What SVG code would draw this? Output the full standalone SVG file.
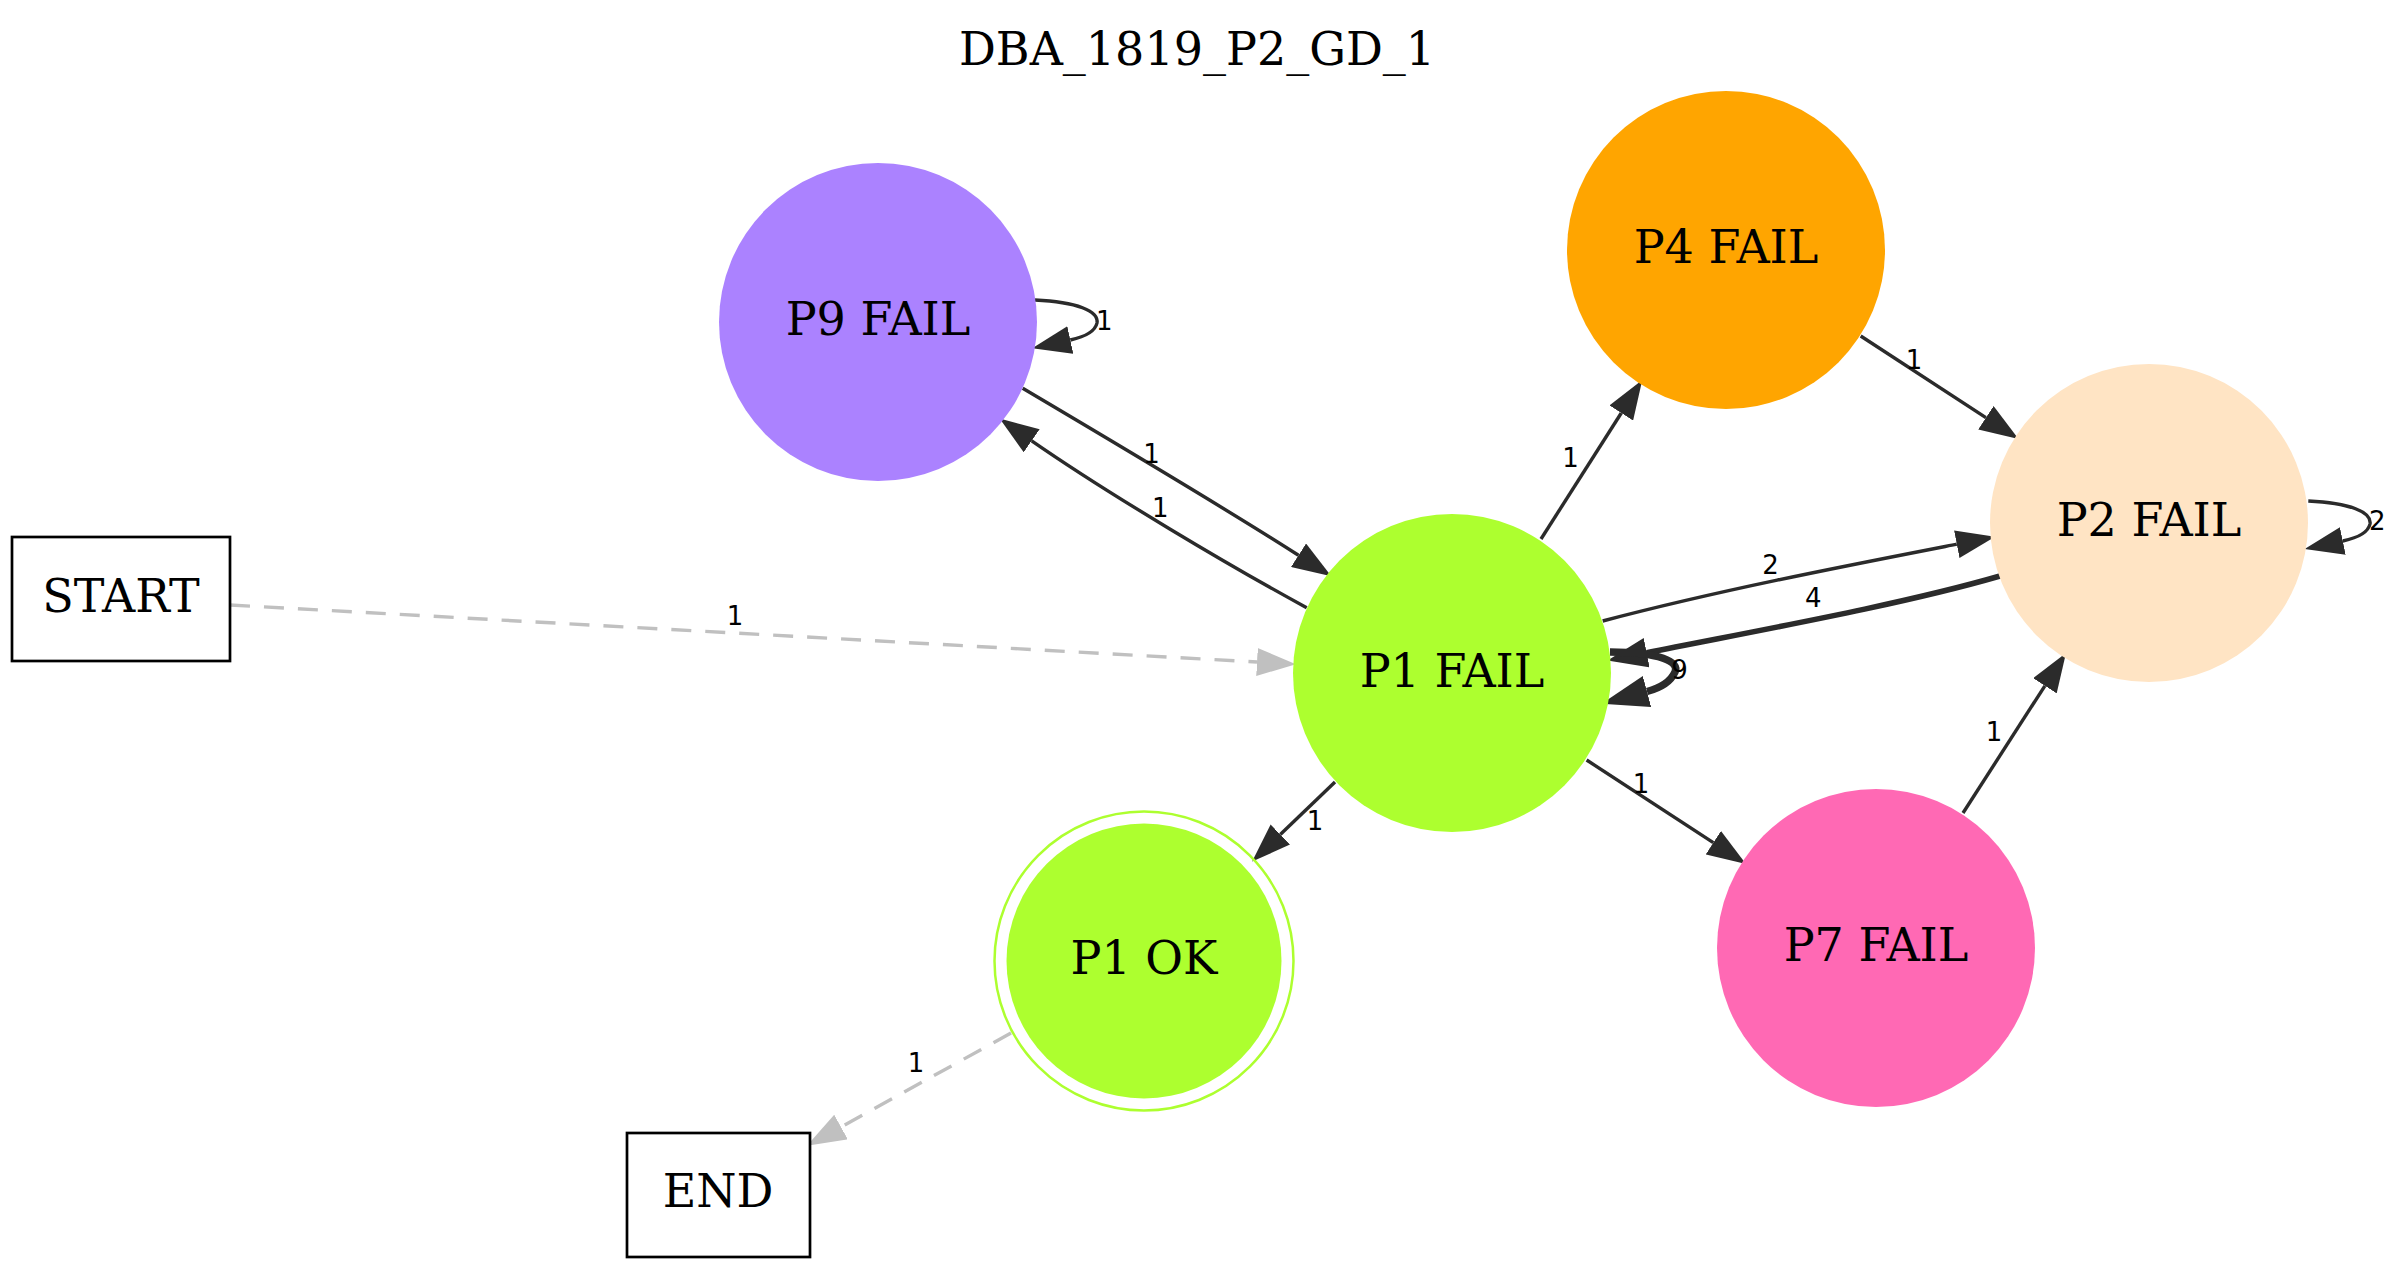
<svg xmlns="http://www.w3.org/2000/svg" width="2400" height="1269" viewBox="0 0 2400 1269">
  <style>
    .title { font-family: "DejaVu Serif", "Liberation Serif", serif; font-size: 46px; fill: #000; text-anchor: middle; }
    .nlabel { font-family: "DejaVu Serif", "Liberation Serif", serif; font-size: 46px; fill: #000; text-anchor: middle; }
    .elabel { font-family: "DejaVu Sans", "Liberation Sans", sans-serif; font-size: 26px; fill: #000; text-anchor: middle; }
    .edge { fill: none; stroke: #2b2b2b; stroke-width: 3.4; }
    .edge.w2 { stroke-width: 5.5; }
    .edge.w3 { stroke-width: 7.5; }
    .dashed { fill: none; stroke: #c0c0c0; stroke-width: 3.4; stroke-dasharray: 20 14; }
    .box { fill: #fff; stroke: #000; stroke-width: 2.7; }
  </style>
  <defs>
    <marker id="arrow" markerUnits="userSpaceOnUse" viewBox="0 0 39 28" refX="0" refY="14" markerWidth="39" markerHeight="28" orient="auto">
      <path d="M0,0 L39,14 L0,28 z" fill="#2b2b2b"/>
    </marker>
    <marker id="arrow-m" markerUnits="userSpaceOnUse" viewBox="0 0 40 30" refX="0" refY="15" markerWidth="40" markerHeight="30" orient="auto">
      <path d="M0,0 L40,15 L0,30 z" fill="#2b2b2b"/>
    </marker>
    <marker id="arrow-l" markerUnits="userSpaceOnUse" viewBox="0 0 47 32" refX="0" refY="16" markerWidth="47" markerHeight="32" orient="auto">
      <path d="M0,0 L47,16 L0,32 z" fill="#2b2b2b"/>
    </marker>
    <marker id="arrow-gray" markerUnits="userSpaceOnUse" viewBox="0 0 39 28" refX="0" refY="14" markerWidth="39" markerHeight="28" orient="auto">
      <path d="M0,0 L39,14 L0,28 z" fill="#c0c0c0"/>
    </marker>
  </defs>

  <rect width="2400" height="1269" fill="#fff"/>

  <text class="title" x="1197" y="65">DBA_1819_P2_GD_1</text>

  <g id="connectors">
    <!-- START -> P1 FAIL -->
    <path class="dashed" d="M230,605 L1257,662" marker-end="url(#arrow-gray)"/>
    <text class="elabel" x="735" y="625">1</text>
    <!-- P1 OK -> END -->
    <path class="dashed" d="M1011,1033 L841,1127" marker-end="url(#arrow-gray)"/>
    <text class="elabel" x="916" y="1072">1</text>
    <!-- P1 FAIL -> P1 OK -->
    <path class="edge" d="M1335,782 L1280.3,834.5" marker-end="url(#arrow)"/>
    <text class="elabel" x="1315" y="830">1</text>
    <!-- P1 FAIL -> P4 FAIL -->
    <path class="edge" d="M1541,539 L1621.3,413" marker-end="url(#arrow)"/>
    <text class="elabel" x="1570.5" y="467">1</text>
    <!-- P4 FAIL -> P2 FAIL -->
    <path class="edge" d="M1860.7,336 L1985.9,417.7" marker-end="url(#arrow)"/>
    <text class="elabel" x="1914" y="369">1</text>
    <!-- P1 FAIL -> P7 FAIL -->
    <path class="edge" d="M1586.6,760 L1713.3,842.7" marker-end="url(#arrow)"/>
    <text class="elabel" x="1641" y="793">1</text>
    <!-- P7 FAIL -> P2 FAIL -->
    <path class="edge" d="M1963,813 L2044.9,685.8" marker-end="url(#arrow)"/>
    <text class="elabel" x="1994" y="741">1</text>
    <!-- P9 FAIL -> P1 FAIL -->
    <path class="edge" d="M1022.7,388.3 C1100,434 1220,505 1298.5,555.3" marker-end="url(#arrow)"/>
    <text class="elabel" x="1151.5" y="463">1</text>
    <!-- P1 FAIL -> P9 FAIL -->
    <path class="edge" d="M1306.7,607.7 C1230,566 1110,495 1031.7,440.8" marker-end="url(#arrow)"/>
    <text class="elabel" x="1160.3" y="517">1</text>
    <!-- P1 FAIL -> P2 FAIL -->
    <path class="edge" d="M1602.7,621 C1720,590 1850,565 1956.8,544.2" marker-end="url(#arrow)"/>
    <text class="elabel" x="1770.5" y="574">2</text>
    <!-- P2 FAIL -> P1 FAIL -->
    <path class="edge w2" d="M2000,576 C1900,605 1760,630 1646.7,652.7" marker-end="url(#arrow-m)"/>
    <text class="elabel" x="1813.3" y="607">4</text>
    <!-- P1 FAIL self loop -->
    <path class="edge w3" d="M1610,652 C1660,652 1680,662 1675,672 C1671,681 1660,688 1647,691.5" marker-end="url(#arrow-l)"/>
    <text class="elabel" x="1679.5" y="679">9</text>
    <!-- P2 FAIL self loop -->
    <path class="edge" d="M2308.3,501 C2350,503 2372,512 2370,524 C2368,533 2357,538 2342.8,541" marker-end="url(#arrow)"/>
    <text class="elabel" x="2377.3" y="530">2</text>
    <!-- P9 FAIL self loop -->
    <path class="edge" d="M1035,300 C1077,302 1099,311 1097,323 C1095,332 1084,337 1070.3,340" marker-end="url(#arrow)"/>
    <text class="elabel" x="1104.3" y="330">1</text>
  </g>

  <g id="node-start">
    <rect class="box" x="12" y="537" width="218" height="124"/>
    <text class="nlabel" x="121" y="612">START</text>
  </g>

  <g id="node-end">
    <rect class="box" x="627" y="1133" width="183" height="124"/>
    <text class="nlabel" x="718" y="1207">END</text>
  </g>

  <g id="node-p9-fail">
    <circle cx="878" cy="322" r="159" fill="#ab82ff"/>
    <text class="nlabel" x="878" y="335">P9 FAIL</text>
  </g>

  <g id="node-p4-fail">
    <circle cx="1726" cy="250" r="159" fill="#ffa500"/>
    <text class="nlabel" x="1726" y="263">P4 FAIL</text>
  </g>

  <g id="node-p2-fail">
    <circle cx="2149" cy="523" r="159" fill="#ffe4c4"/>
    <text class="nlabel" x="2149" y="536">P2 FAIL</text>
  </g>

  <g id="node-p1-fail">
    <circle cx="1452" cy="673" r="159" fill="#adff2f"/>
    <text class="nlabel" x="1452" y="687">P1 FAIL</text>
  </g>

  <g id="node-p1-ok">
    <circle cx="1144" cy="961" r="149.5" fill="none" stroke="#adff2f" stroke-width="2.5"/>
    <circle cx="1144" cy="961" r="137.5" fill="#adff2f"/>
    <text class="nlabel" x="1144" y="974">P1 OK</text>
  </g>

  <g id="node-p7-fail">
    <circle cx="1876" cy="948" r="159" fill="#ff69b4"/>
    <text class="nlabel" x="1876" y="961">P7 FAIL</text>
  </g>
</svg>
